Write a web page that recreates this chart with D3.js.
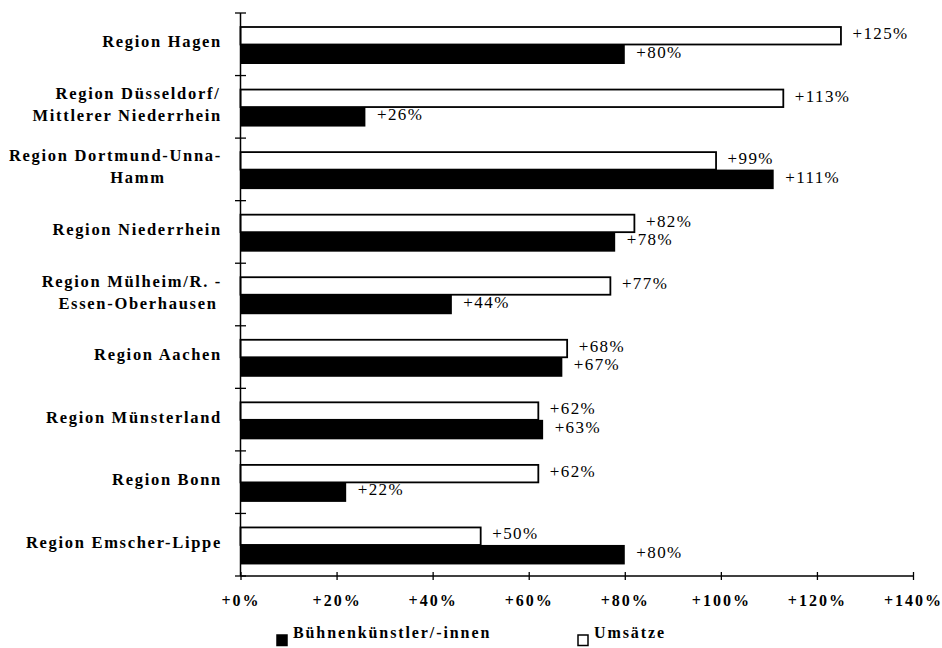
<!DOCTYPE html>
<html>
<head>
<meta charset="utf-8">
<script src="https://cdn.jsdelivr.net/npm/d3@7"></script>
<style>
  html, body { margin: 0; padding: 0; background: #fff; }
  svg { display: block; font-family: "Liberation Serif", "Times New Roman", serif; }
</style>
</head>
<body>
<svg id="chart" width="942" height="648"></svg>
<script>
// Regions (label lines separated by "\n")
const categories = [
  "Region Hagen",
  "Region Düsseldorf/\nMittlerer Niederrhein",
  "Region Dortmund-Unna-\nHamm",
  "Region Niederrhein",
  "Region Mülheim/R. -\nEssen-Oberhausen",
  "Region Aachen",
  "Region Münsterland",
  "Region Bonn",
  "Region Emscher-Lippe"
];
// Change in turnover (Umsätze), percent
const umsaetze = [125, 113, 99, 82, 77, 68, 62, 62, 50];
// Change in number of stage artists (Bühnenkünstler/-innen), percent
const kuenstler = [80, 26, 111, 78, 44, 67, 63, 22, 80];
// X axis ticks
const tickValues = [0, 20, 40, 60, 80, 100, 120, 140];
const tickLabels = ["+0%", "+20%", "+40%", "+60%", "+80%", "+100%", "+120%", "+140%"];
const seriesNames = ["Bühnenkünstler/-innen", "Umsätze"];

const svg = d3.select("#chart");

const x = d3.scaleLinear().domain([0, 140]).range([240.5, 913]);
const y = d3.scaleBand().domain(categories).range([13, 576]).paddingInner(0).paddingOuter(0);

const barTop = 14, whiteH = 17.5, blackH = 19.5;
const fmt = v => "+" + v + "%";

const data = categories.map((c, i) => ({ c, u: umsaetze[i], k: kuenstler[i] }));

// Umsätze bars (white, outlined)
svg.append("g").selectAll("rect").data(data).join("rect")
  .attr("x", x(0))
  .attr("y", d => y(d.c) + barTop)
  .attr("width", d => x(d.u) - x(0))
  .attr("height", whiteH)
  .attr("fill", "#fff")
  .attr("stroke", "#000")
  .attr("stroke-width", 1.8);

// Bühnenkünstler bars (black)
svg.append("g").selectAll("rect").data(data).join("rect")
  .attr("x", x(0))
  .attr("y", d => y(d.c) + barTop + whiteH)
  .attr("width", d => x(d.k) - x(0))
  .attr("height", blackH)
  .attr("fill", "#000");

// Value labels
const valueStyle = s => s
  .attr("font-size", 17)
  .attr("letter-spacing", 1.4)
  .attr("fill", "#000");

svg.append("g").selectAll("text").data(data).join("text")
  .attr("x", d => x(d.u) + 11.5)
  .attr("y", d => y(d.c) + barTop + 12)
  .text(d => fmt(d.u))
  .call(valueStyle);

svg.append("g").selectAll("text").data(data).join("text")
  .attr("x", d => x(d.k) + 11.5)
  .attr("y", d => y(d.c) + barTop + whiteH + 13)
  .text(d => fmt(d.k))
  .call(valueStyle);

// Category axis
const yAxis = svg.append("g");
yAxis.append("line")
  .attr("x1", x(0)).attr("x2", x(0))
  .attr("y1", y.range()[0]).attr("y2", y.range()[1])
  .attr("stroke", "#000").attr("stroke-width", 1.5);
const bounds = categories.map(c => y(c)).concat([y.range()[1]]);
yAxis.selectAll("line.tick").data(bounds).join("line")
  .attr("class", "tick")
  .attr("x1", x(0) - 5.5).attr("x2", x(0) + 5.5)
  .attr("y1", d => d).attr("y2", d => d)
  .attr("stroke", "#000").attr("stroke-width", 1.3);

// Category labels: single lines right-aligned, wrapped labels centred
const labelRight = 222, labelCenter = 138;
const labels = svg.append("g")
  .attr("font-size", 16.5)
  .attr("font-weight", "bold")
  .attr("letter-spacing", 1.7);
data.forEach(d => {
  const lines = d.c.split("\n");
  const mid = y(d.c) + y.bandwidth() / 2;
  lines.forEach((line, j) => {
    const baseline = mid + 3 + (j - (lines.length - 1)) * 22 + (lines.length > 1 ? 11 : 0);
    const t = labels.append("text").attr("y", baseline).text(line);
    const w = t.node().getComputedTextLength();
    if (lines.length === 1 || labelCenter + w / 2 > labelRight) {
      t.attr("x", labelRight - w);
    } else {
      t.attr("x", labelCenter - w / 2);
    }
  });
});

// Value axis
const xAxis = svg.append("g")
  .attr("transform", `translate(0,${y.range()[1]})`)
  .call(d3.axisBottom(x).tickValues(tickValues).tickFormat((d, i) => tickLabels[i]).tickSize(4).tickPadding(0));
xAxis.select(".domain").attr("stroke", "#000").attr("stroke-width", 1.5).attr("d", `M${x(0)},0H${x(140)}`);
xAxis.selectAll(".tick line").attr("y1", -4).attr("y2", 4).attr("stroke-width", 1.3);
xAxis.selectAll(".tick text")
  .attr("y", 30)
  .attr("dy", 0)
  .attr("font-family", "Liberation Serif, serif")
  .attr("font-size", 16)
  .attr("font-weight", "bold")
  .attr("letter-spacing", 2)
  .attr("fill", "#000");

// Legend
const legend = svg.append("g")
  .attr("font-size", 16)
  .attr("font-weight", "bold")
  .attr("letter-spacing", 1.9);
const legendItems = [
  { name: seriesNames[0], x: 277, fill: "#000" },
  { name: seriesNames[1], x: 578, fill: "#fff" }
];
legendItems.forEach(it => {
  legend.append("rect")
    .attr("x", it.x).attr("y", 635).attr("width", 10).attr("height", 10.5)
    .attr("fill", it.fill).attr("stroke", "#000").attr("stroke-width", 1.5);
  legend.append("text").attr("x", it.x + 16).attr("y", 638).text(it.name);
});
</script>
</body>
</html>
